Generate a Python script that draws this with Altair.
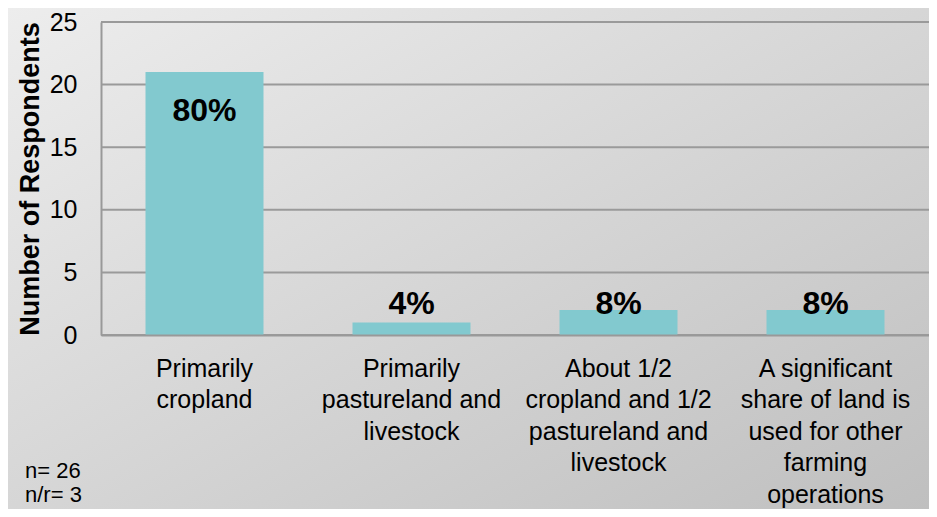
import altair as alt
import pandas as pd

categories = [
    "Primarily|cropland",
    "Primarily|pastureland and|livestock",
    "About 1/2|cropland  and 1/2|pastureland and|livestock",
    "A significant|share of land is|used for other|farming|operations",
]
counts = [21, 1, 2, 2]
pct_labels = ["80%", "4%", "8%", "8%"]
y_ticks = [0, 5, 10, 15, 20, 25]
note_text = "n= 26\nn/r= 3"

df = pd.DataFrame({"cat": categories, "count": counts, "pct": pct_labels})
grid_df = pd.DataFrame({"v": y_ticks})

W, H = 828, 313
PL, PT, PR, PB = 93, 14, 0, 174
FONT = "Arial, Liberation Sans, sans-serif"

yscale = alt.Scale(domain=[0, 25], nice=False)
yaxis = alt.Axis(
    values=y_ticks, labelFontSize=25, labelFont=FONT,
    labelColor="#000000", labelPadding=24, ticks=False,
    domainColor="#999999", domainWidth=2, grid=False, zindex=1,
    titleFontSize=27, titleFontWeight="bold", titleFont=FONT,
    titleColor="#000000", titlePadding=5,
)

bg = alt.Chart(pd.DataFrame({"a": [0]})).mark_rect(
    fill=alt.Gradient(
        gradient="linear",
        stops=[alt.GradientStop(color="#ededed", offset=0),
               alt.GradientStop(color="#bfbfbf", offset=1)],
        x1=0, y1=0, x2=1, y2=1,
    ),
    strokeWidth=0,
).encode(
    x=alt.value(-PL), x2=alt.value(W + PR),
    y=alt.value(-PT), y2=alt.value(H + PB),
)

grid = alt.Chart(grid_df).mark_rule(color="#9a9a9a", strokeWidth=2).encode(
    y=alt.Y("v:Q", scale=yscale, axis=yaxis, title="Number of Respondents"),
    x=alt.value(0), x2=alt.value(W),
)

xenc = alt.X(
    "cat:N", sort=categories, title=None,
    scale=alt.Scale(paddingInner=0.43, paddingOuter=0.215),
    axis=alt.Axis(
        labelExpr="split(datum.label, '|')",
        labelAngle=0, labelFontSize=25, labelLineHeight=31.5,
        labelPadding=21, labelBaseline="top", labelLimit=0,
        labelColor="#000000", labelFont=FONT,
        ticks=False, domainColor="#999999", domainWidth=2,
        grid=False, zindex=1,
    ),
)

bars = alt.Chart(df).mark_bar(color="#82c9cf").encode(
    x=xenc,
    y=alt.Y("count:Q", title="Number of Respondents", scale=yscale, axis=yaxis),
)

labels = alt.Chart(df).transform_calculate(
    ly="datum.count > 5 ? datum.count - 3.1 : 2.5"
).mark_text(fontSize=32, fontWeight="bold", font=FONT, color="#000000").encode(
    x=alt.X("cat:N", sort=categories),
    y=alt.Y("ly:Q", scale=yscale),
    text="pct:N",
)

note = alt.Chart(pd.DataFrame({"t": [note_text]})).mark_text(
    align="left", baseline="top", fontSize=22, font=FONT, color="#000000",
    lineBreak="\n", lineHeight=24,
).encode(x=alt.value(-76), y=alt.value(439), text="t:N")

chart = alt.layer(bg, grid, bars, labels, note).properties(
    width=W, height=H,
    autosize=alt.AutoSizeParams(type="none"),
    padding={"left": PL, "top": PT, "right": PR, "bottom": PB},
).configure_view(stroke=None).configure(background="#ffffff")

chart.save("out.html", embed_options={"renderer": "svg", "actions": False})
